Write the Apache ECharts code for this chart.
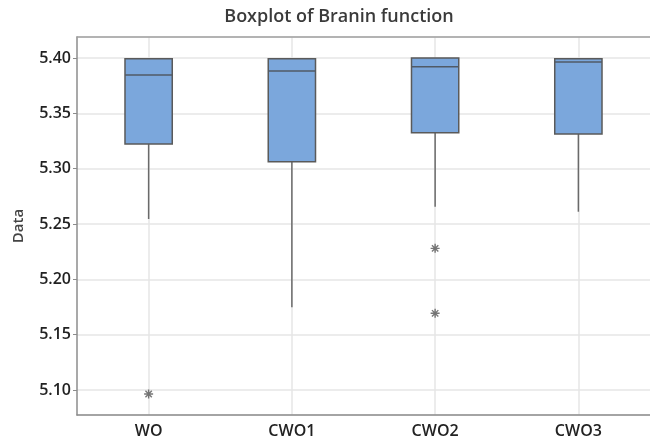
<!DOCTYPE html>
<html>
<head>
<meta charset="utf-8">
<script src="https://cdn.jsdelivr.net/npm/echarts@6/dist/echarts.min.js"></script>
<style>html,body{margin:0;padding:0;background:#fff;}#c{width:650px;height:441px;}</style>
</head>
<body>
<div id="c"></div>
<script>
const categories = ['WO', 'CWO1', 'CWO2', 'CWO3'];
const whiskerLow = [5.2545, 5.1747, 5.2656, 5.2611];
const q1 = [5.3222, 5.3063, 5.3325, 5.3313];
const median = [5.3846, 5.3882, 5.3922, 5.3964];
const q3 = [5.3993, 5.3993, 5.4000, 5.3993];
const whiskerHigh = [5.3993, 5.3993, 5.4000, 5.3993];
const outlierCat = ['WO', 'CWO2', 'CWO2'];
const outlierVal = [5.0964, 5.228, 5.1693];
const yTicks = [5.10, 5.15, 5.20, 5.25, 5.30, 5.35, 5.40];

const FONT = "'Open Sans', 'Noto Sans', sans-serif";
const boxData = categories.map((c, i) => [i, whiskerLow[i], q1[i], median[i], q3[i], whiskerHigh[i]]);
const outData = outlierCat.map((c, i) => [categories.indexOf(c), outlierVal[i]]);
const halfCats = [];
for (let i = 0; i < categories.length * 2 + 1; i++) halfCats.push(String(i));

const chart = echarts.init(document.getElementById('c'), null, {renderer: 'canvas'});
chart.setOption({
  backgroundColor: '#fff',
  animation: false,
  title: {
    text: 'Boxplot of Branin function',
    left: 334, top: 3, textAlign: 'center',
    textStyle: {fontFamily: FONT, fontSize: 18, fontWeight: 600, color: '#3a3a3a'}
  },
  grid: {left: 77, right: -4, top: 37, bottom: 26, containLabel: false},
  xAxis: [{
    type: 'category', data: categories, boundaryGap: true,
    axisLine: {lineStyle: {color: '#8c8c8c', width: 1.5}},
    axisTick: {alignWithLabel: true, length: 4, lineStyle: {color: '#8c8c8c'}},
    axisLabel: {fontFamily: FONT, fontSize: 16, fontWeight: 600, color: '#222', margin: 8},
    splitLine: {show: false}
  }, {
    type: 'category', data: halfCats, boundaryGap: false, position: 'top',
    axisLine: {show: true, lineStyle: {color: '#a0a0a0', width: 1.5}},
    axisTick: {show: false}, axisLabel: {show: false},
    splitLine: {show: true, interval: (idx) => idx % 2 === 1, lineStyle: {color: '#e6e6e6', width: 1.5}}
  }],
  yAxis: {
    type: 'value', min: 5.0774, max: 5.419, splitNumber: 6,
    name: 'Data', nameLocation: 'middle', nameGap: 51, nameRotate: 90,
    nameTextStyle: {fontFamily: FONT, fontSize: 15, fontWeight: 600, color: '#444'},
    axisLine: {show: true, lineStyle: {color: '#8c8c8c', width: 1.5}},
    axisTick: {show: true, length: 4, lineStyle: {color: '#8c8c8c'}},
    axisLabel: {fontFamily: FONT, fontSize: 16, fontWeight: 600, color: '#222', margin: 6,
      showMinLabel: false, showMaxLabel: false,
      formatter: v => (yTicks.some(t => Math.abs(t - v) < 1e-6) ? v.toFixed(2) : '')},
    splitLine: {show: true, lineStyle: {color: '#e6e6e6', width: 1.5}}
  },
  series: [{
    type: 'custom',
    xAxisIndex: 0,
    data: boxData,
    encode: {x: 0, y: [1, 2, 3, 4, 5]},
    renderItem: function (params, api) {
      const idx = api.value(0);
      const pLow = api.coord([idx, api.value(1)]);
      const pQ1 = api.coord([idx, api.value(2)]);
      const pMed = api.coord([idx, api.value(3)]);
      const pQ3 = api.coord([idx, api.value(4)]);
      const pHigh = api.coord([idx, api.value(5)]);
      const w = api.size([1, 0])[0] * 0.33;
      const x = pQ1[0];
      const lineStyle = {stroke: '#6a6a6a', lineWidth: 1.5};
      return {
        type: 'group',
        children: [
          {type: 'line', shape: {x1: x, y1: pQ1[1], x2: x, y2: pLow[1]}, style: lineStyle},
          {type: 'line', shape: {x1: x, y1: pQ3[1], x2: x, y2: pHigh[1]}, style: lineStyle},
          {type: 'rect', shape: {x: x - w / 2, y: pQ3[1], width: w, height: pQ1[1] - pQ3[1]},
            style: {fill: '#7ba7dc', stroke: '#5a5a5a', lineWidth: 1.5}},
          {type: 'line', shape: {x1: x - w / 2, y1: pMed[1], x2: x + w / 2, y2: pMed[1]},
            style: {stroke: '#505a66', lineWidth: 1.5}}
        ]
      };
    }
  }, {
    type: 'scatter',
    xAxisIndex: 0,
    data: outData,
    symbol: 'path://M10,0L10,20M0,10L20,10M2.93,2.93L17.07,17.07M2.93,17.07L17.07,2.93',
    symbolSize: 9,
    itemStyle: {color: 'transparent', borderColor: '#555', borderWidth: 1.4}
  }]
});
</script>
</body>
</html>
